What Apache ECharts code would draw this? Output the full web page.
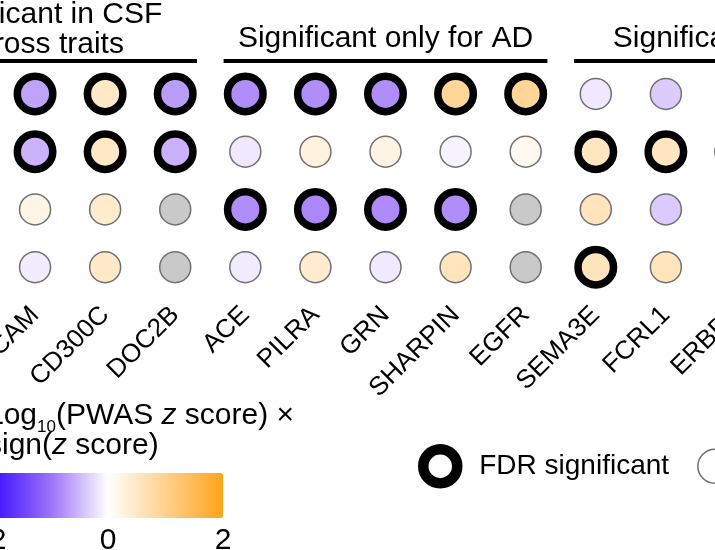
<!DOCTYPE html>
<html>
<head>
<meta charset="utf-8">
<script src="https://cdn.jsdelivr.net/npm/echarts@6/dist/echarts.min.js"></script>
<style>html,body{margin:0;padding:0;background:#fff}#c{width:715px;height:550px}</style>
</head>
<body>
<div id="c"></div>
<script>
// ---- data ----
const genes = ['ALCAM','CD300C','DOC2B','ACE','PILRA','GRN','SHARPIN','EGFR','SEMA3E','FCRL1','ERBB2'];
const traits = ['Trait 1','Trait 2','Trait 3','Trait 4'];
// log10(PWAS z score) x sign(z score); null = not available
const scoreTrait1 = [-0.65, 0.50, -0.70, -0.80, -0.80, -0.80, 0.90, 0.90, -0.16, -0.36, 0.30];
const scoreTrait2 = [-0.54, 0.50, -0.55, -0.16, 0.27, 0.24, -0.09, 0.12, 0.55, 0.55, 0.50];
const scoreTrait3 = [0.21, 0.42, null, -0.80, -0.85, -0.82, -0.80, null, 0.58, -0.37, 0.30];
const scoreTrait4 = [-0.13, 0.48, null, -0.14, 0.42, -0.15, 0.58, null, 0.58, 0.58, 0.30];
// FDR significant flags
const fdrTrait1 = [1,1,1,1,1,1,1,1,0,0,0];
const fdrTrait2 = [1,1,1,0,0,0,0,0,1,1,1];
const fdrTrait3 = [0,0,0,1,1,1,1,0,0,0,0];
const fdrTrait4 = [0,0,0,0,0,0,0,0,1,0,0];
const groupTitles = ['Significant in CSF\nacross traits', 'Significant only for AD', 'Significant only for CSF'];
const groupFirst = ['ALCAM', 'ACE', 'SEMA3E'];
const groupLast = ['DOC2B', 'EGFR', 'ERBB2'];
const colorTicks = [-2, 0, 2];
const legendNames = ['FDR significant', 'Not significant'];

// ---- build ----
const scores = [scoreTrait1, scoreTrait2, scoreTrait3, scoreTrait4];
const fdrs = [fdrTrait1, fdrTrait2, fdrTrait3, fdrTrait4];
const thin = [], bold = [], na = [];
scores.forEach((row, r) => {
  row.forEach((v, c) => {
    if (v === null) na.push([c, r]);
    else if (fdrs[r][c]) bold.push([c, r, v]);
    else thin.push([c, r, v]);
  });
});
const FONT = 'Liberation Sans, Arial, Helvetica, sans-serif';
const chart = echarts.init(document.getElementById('c'), null, {renderer: 'canvas'});
const option = {
  backgroundColor: '#fff',
  animation: false,
  textStyle: {fontFamily: FONT},
  grid: [
    {left: 0, top: 65, width: 771, height: 231, containLabel: false, outerBoundsMode: 'none'},
    {left: -7, top: 473, width: 230, height: 45, containLabel: false, outerBoundsMode: 'none'}
  ],
  xAxis: [
    {type: 'category', gridIndex: 0, data: genes,
     axisLine: {show: false}, axisTick: {show: false}, splitLine: {show: false},
     axisLabel: {rotate: 45, interval: 0, fontSize: 26, color: '#000', margin: 15, fontFamily: FONT, hideOverlap: false}},
    {type: 'value', gridIndex: 1, min: -2, max: 2, interval: 2,
     axisLine: {show: false}, axisTick: {show: false}, splitLine: {show: false},
     axisLabel: {fontSize: 30, color: '#000', margin: 8, fontFamily: FONT, showMinLabel: true, showMaxLabel: true}}
  ],
  yAxis: [
    {type: 'category', gridIndex: 0, data: traits, inverse: true, show: false},
    {type: 'value', gridIndex: 1, show: false}
  ],
  visualMap: {
    type: 'continuous', min: colorTicks[0], max: colorTicks[2], dimension: 2, seriesIndex: [0, 1],
    orient: 'horizontal', left: -7, top: 473, itemWidth: 45, itemHeight: 230, padding: 0,
    calculable: false, hoverLink: false, text: null, showLabel: false,
    inRange: {color: ['#3a10ff', '#9c72f8', '#ffffff', '#ffd18c', '#ffa31a']}
  },
  legend: {
    data: [
      {name: legendNames[0], icon: 'circle', itemStyle: {color: '#fff', borderColor: '#000', borderWidth: 10.5}},
      {name: legendNames[1], icon: 'circle', itemStyle: {color: '#fff', borderColor: '#707070', borderWidth: 1.5}}
    ],
    orient: 'horizontal',
    left: 418, top: 444, width: 900, itemWidth: 68, itemHeight: 34, itemGap: 28, padding: 0,
    selectedMode: false,
    textStyle: {fontSize: 28, color: '#000', fontFamily: FONT}
  },
  series: [
    {name: legendNames[1], type: 'scatter', xAxisIndex: 0, yAxisIndex: 0, data: thin,
     symbol: 'circle', symbolSize: 31,
     itemStyle: {borderColor: '#707070', borderWidth: 1.5, opacity: 1}, emphasis: {disabled: true}},
    {name: legendNames[0], type: 'scatter', xAxisIndex: 0, yAxisIndex: 0, data: bold,
     symbol: 'circle', symbolSize: 35.5,
     itemStyle: {borderColor: '#000', borderWidth: 7.5, opacity: 1}, emphasis: {disabled: true}},
    {name: 'NA', type: 'scatter', xAxisIndex: 0, yAxisIndex: 0, data: na,
     symbol: 'circle', symbolSize: 31,
     itemStyle: {color: '#c9c9c9', borderColor: '#707070', borderWidth: 1.5, opacity: 1}, emphasis: {disabled: true}}
  ]
};
chart.setOption(option);

// header lines and titles from axis positions
const px = name => chart.convertToPixel({gridIndex: 0}, [genes.indexOf(name), 0])[0];
const half = (px(genes[1]) - px(genes[0])) * 0.31;
const graphics = [];
groupTitles.forEach((t, g) => {
  let x1 = px(groupFirst[g]) - half;
  const x2 = px(groupLast[g]) + half;
  if (g === 0) x1 = -60;
  graphics.push({type: 'line', silent: true,
    shape: {x1: x1, y1: 61, x2: x2, y2: 61},
    style: {stroke: '#000', lineWidth: 4}});
  let tx, align;
  if (g === 0) { tx = px(groupFirst[g]) + 8; align = 'center'; }
  else if (g === 1) { tx = (px(groupFirst[g]) + px(groupLast[g])) / 2; align = 'center'; }
  else { tx = px(groupFirst[g]) + 17; align = 'left'; }
  graphics.push({type: 'text', silent: true, x: tx, y: g === 0 ? 30 : 39,
    style: {text: t, font: '30px ' + FONT, fill: '#000', align: align, verticalAlign: 'middle', lineHeight: 30}});
});
graphics.push({type: 'text', silent: true, x: -13, y: 416,
  style: {
    text: '{a|Log}{sub|10}{a|(PWAS }{i|z}{a| score) ×}',
    verticalAlign: 'middle', align: 'left',
    rich: {
      a: {fontSize: 30, fontFamily: FONT, fill: '#000', lineHeight: 30},
      i: {fontSize: 30, fontFamily: FONT, fontStyle: 'italic', fill: '#000', lineHeight: 30},
      sub: {fontSize: 17, fontFamily: FONT, fill: '#000', padding: [22, 0, 0, 0], lineHeight: 17}
    }
  }});
graphics.push({type: 'text', silent: true, x: -13, y: 446,
  style: {
    text: '{a|sign(}{i|z}{a| score)}',
    verticalAlign: 'middle', align: 'left',
    rich: {
      a: {fontSize: 30, fontFamily: FONT, fill: '#000'},
      i: {fontSize: 30, fontFamily: FONT, fontStyle: 'italic', fill: '#000'}
    }
  }});
chart.setOption({graphic: graphics});
</script>
</body>
</html>
